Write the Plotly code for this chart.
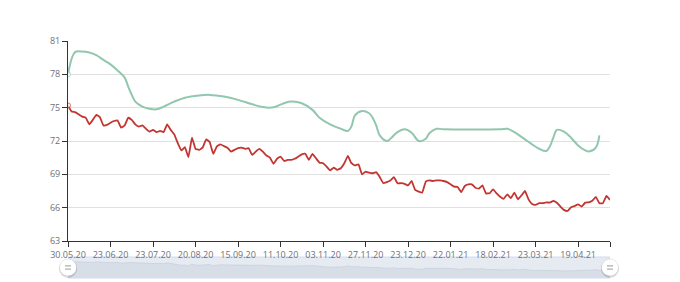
import plotly.graph_objects as go

# ---- data ----
tick_labels = ["30.05.20", "23.06.20", "23.07.20", "20.08.20", "15.09.20", "11.10.20",
               "03.11.20", "27.11.20", "23.12.20", "22.01.21", "18.02.21", "23.03.21", "19.04.21"]
label_step = 12  # categories between labelled dates

red_values = [
    75.2, 74.65, 74.6, 74.4, 74.2, 74.1, 73.5, 73.9, 74.35, 74.15,
    73.4, 73.45, 73.65, 73.8, 73.85, 73.2, 73.4, 74.1, 73.9, 73.5,
    73.3, 73.4, 73.1, 72.85, 73.0, 72.8, 72.9, 72.8, 73.5, 73.0,
    72.6, 71.8, 71.15, 71.45, 70.55, 72.3, 71.3, 71.2, 71.4, 72.15,
    71.9, 70.85, 71.5, 71.7, 71.55, 71.4, 71.05, 71.2, 71.35, 71.4,
    71.3, 71.35, 70.75, 71.05, 71.3, 71.05, 70.7, 70.5, 69.95, 70.4,
    70.6, 70.2, 70.3, 70.3, 70.4, 70.6, 70.8, 70.85, 70.3, 70.85,
    70.45, 70.05, 70.0, 69.7, 69.35, 69.6, 69.4, 69.55, 70.0, 70.65,
    70.0, 69.8, 69.9, 69.0, 69.25, 69.15, 69.1, 69.2, 68.75, 68.2,
    68.3, 68.45, 68.75, 68.2, 68.2, 68.15, 68.0, 68.4, 67.6, 67.45,
    67.35, 68.35, 68.45, 68.4, 68.45, 68.45, 68.4, 68.3, 68.1, 67.9,
    67.85, 67.4, 67.95, 68.1, 68.1, 67.8, 67.72, 68.0, 67.28, 67.3,
    67.65, 67.28, 66.98, 66.8, 67.2, 66.85, 67.35, 66.75, 67.1, 67.5,
    66.75, 66.33, 66.25, 66.4, 66.4, 66.48, 66.45, 66.6, 66.45, 66.1,
    65.8, 65.7, 66.03, 66.15, 66.3, 66.1, 66.45, 66.48, 66.62, 66.98,
    66.4, 66.4, 67.05, 66.7,
]

green_index = [0, 2, 4, 6, 8, 10, 12, 14, 16, 17, 18, 19, 21, 23, 25, 27, 30, 33, 37, 40,
               44, 48, 52, 55, 58, 61, 63, 66, 69, 71, 74, 77, 79, 80, 81, 83, 85, 86, 87, 88,
               90, 91, 93, 95, 97, 99, 101, 102, 104, 106, 122, 124, 126, 129, 131, 133, 135, 136, 137, 138,
               140, 142, 144, 146, 147, 149, 150]
green_values = [78.0, 80.0, 80.05, 79.97, 79.72, 79.3, 78.9, 78.35, 77.7, 76.9, 76.15, 75.55, 75.1, 74.9, 74.85, 75.1, 75.55, 75.9, 76.1, 76.15,
                76.0, 75.7, 75.3, 75.05, 75.03, 75.4, 75.55, 75.4, 74.8, 74.1, 73.5, 73.1, 72.9, 73.3, 74.3, 74.7, 74.5, 74.1, 73.4, 72.5,
                72.0, 72.2, 72.8, 73.05, 72.75, 72.0, 72.2, 72.7, 73.1, 73.05, 73.05, 73.1, 72.8, 72.15, 71.7, 71.3, 71.1, 71.5, 72.3, 73.0,
                72.85, 72.3, 71.6, 71.15, 71.05, 71.4, 72.5]

RED = "#c23531"
GREEN = "#91c7ae"
FONT = "Open Sans"

n = len(red_values)
xs = list(range(n))
last = n - 1

tickvals = [i * label_step for i in range(len(tick_labels))] + [last]
ticktext = tick_labels + [""]

red_marker_size = [5 if i == 0 else 0 for i in xs]
green_marker_size = [5 if i == 0 else 0 for i in green_index]

fig = go.Figure()

fig.add_trace(go.Scatter(
    x=green_index, y=green_values, mode="lines+markers",
    line=dict(color=GREEN, width=2, shape="spline", smoothing=1.0),
    marker=dict(size=green_marker_size, color="white", line=dict(color=GREEN, width=1)),
    hoverinfo="skip", showlegend=False, xaxis="x", yaxis="y"))

fig.add_trace(go.Scatter(
    x=xs, y=red_values, mode="lines+markers",
    line=dict(color=RED, width=1.8, shape="spline", smoothing=0.3),
    marker=dict(size=red_marker_size, color="white", line=dict(color=RED, width=1)),
    hoverinfo="skip", showlegend=False, xaxis="x", yaxis="y"))

# data shadow in the zoom slider
fig.add_trace(go.Scatter(
    x=xs, y=red_values, mode="lines", fill="tozeroy",
    fillcolor="#d7dee8", line=dict(color="#c6cfdc", width=0.7),
    hoverinfo="skip", showlegend=False, xaxis="x2", yaxis="y2"))

PAPER_H = 282 - 41 - 4
main_bottom = (278 - 241) / PAPER_H
band_top = (278 - 257) / PAPER_H
band_mid = band_top / 2

shapes = [
    dict(type="rect", xref="x2", yref="y2 domain", x0=0, x1=last, y0=0, y1=1,
         fillcolor="#e6eaf1", line=dict(color="#d2dbee", width=1), layer="below"),
]
for hx in (0, 1):
    shapes.append(dict(type="circle", xref="paper", yref="paper", xsizemode="pixel", ysizemode="pixel",
                       xanchor=hx, yanchor=band_mid, x0=-9, x1=9, y0=-10.5, y1=7.5,
                       fillcolor="rgba(0,0,0,0.13)", line=dict(width=0), layer="above"))
    shapes.append(dict(type="circle", xref="paper", yref="paper", xsizemode="pixel", ysizemode="pixel",
                       xanchor=hx, yanchor=band_mid, x0=-8.5, x1=8.5, y0=-8.5, y1=8.5,
                       fillcolor="white", line=dict(color="rgba(0,0,0,0.15)", width=0.6), layer="above"))
    for dy in (-1.6, 1.6):
        shapes.append(dict(type="line", xref="paper", yref="paper", xsizemode="pixel", ysizemode="pixel",
                           xanchor=hx, yanchor=band_mid, x0=-3, x1=3, y0=dy, y1=dy,
                           line=dict(color="#9a9a9a", width=1), layer="above"))

fig.update_layout(
    template="none",
    width=680, height=282,
    margin=dict(l=68, r=70, t=41, b=4, pad=0),
    autosize=False,
    paper_bgcolor="white", plot_bgcolor="white",
    font=dict(family=FONT, size=9, color="#6e7079"),
    xaxis=dict(domain=[0, 1], range=[0, last], anchor="y", automargin=False,
               tickmode="array", tickvals=tickvals, ticktext=ticktext,
               ticks="outside", ticklen=5, tickcolor="#333", tickwidth=1,
               showline=True, linecolor="#333", linewidth=1,
               showgrid=False, zeroline=False,
               tickfont=dict(family=FONT, size=9, color="#6e7079")),
    yaxis=dict(domain=[main_bottom, 1], range=[63, 81], anchor="x", automargin=False,
               tickmode="linear", tick0=63, dtick=3,
               ticks="outside", ticklen=5, tickcolor="#333", tickwidth=1,
               showline=True, linecolor="#333", linewidth=1,
               showgrid=True, gridcolor="#e0e0e0", gridwidth=1, zeroline=False,
               tickfont=dict(family=FONT, size=9, color="#6e7079")),
    xaxis2=dict(domain=[0, 1], range=[0, last], anchor="y2", visible=False),
    yaxis2=dict(domain=[0, band_top], range=[59.2, 79], anchor="x2", visible=False),
    shapes=shapes,
)

fig.write_html("out.html")
